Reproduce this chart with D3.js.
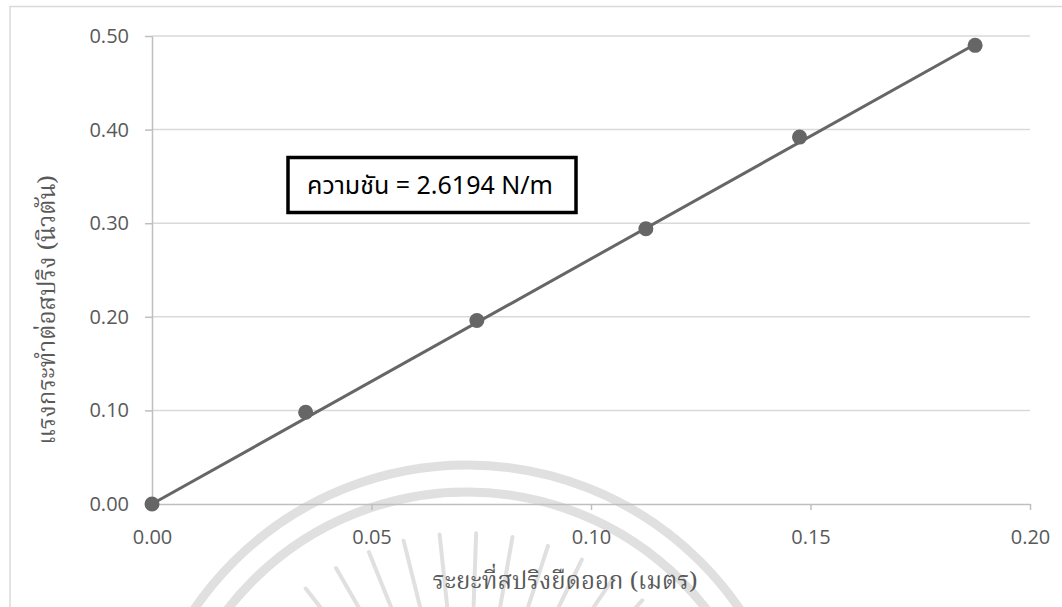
<!DOCTYPE html>
<html>
<head>
<meta charset="utf-8">
<script src="https://cdn.jsdelivr.net/npm/d3@7/dist/d3.min.js"></script>
<style>
  html, body { margin: 0; padding: 0; background: #ffffff; }
  svg { display: block; }
</style>
</head>
<body>
<svg id="chart" width="1062" height="607"></svg>
<script>
// Spring extension (m) and applied force (N)
const extension = [0.000, 0.035, 0.074, 0.1125, 0.1475, 0.1875];
const force     = [0.000, 0.098, 0.196, 0.294, 0.392, 0.490];
// Fitted spring constant (N/m), line through the origin
const springConstant = 2.6194;
const xTicks = [0.00, 0.05, 0.10, 0.15, 0.20];
const yTicks = [0.00, 0.10, 0.20, 0.30, 0.40, 0.50];
const xTitle = "ระยะที่สปริงยืดออก (เมตร)";
const yTitle = "แรงกระทำต่อสปริง (นิวตัน)";
const boxLabel = "ความชัน = " + springConstant.toFixed(4) + " N/m";

const svg = d3.select("#chart");
const W = 1062, H = 607;
const plot = { left: 152, right: 1030, top: 36, bottom: 504 };

const x = d3.scaleLinear().domain([0, 0.20]).range([plot.left, plot.right]);
const y = d3.scaleLinear().domain([0, 0.50]).range([plot.bottom, plot.top]);

// Faint emblem watermark behind everything
const wm = svg.append("g").attr("fill", "none").attr("stroke", "#e0e0e0");
const wcx = 467, wcy = 795;
[330, 303].forEach(r => {
  wm.append("circle").attr("cx", wcx).attr("cy", wcy).attr("r", r).attr("stroke-width", 9);
});
d3.range(-70, 71, 8).forEach(a => {
  const t = (a - 90) * Math.PI / 180;
  wm.append("line")
    .attr("x1", wcx + 190 * Math.cos(t)).attr("y1", wcy + 190 * Math.sin(t))
    .attr("x2", wcx + 262 * Math.cos(t)).attr("y2", wcy + 262 * Math.sin(t))
    .attr("stroke-width", 4).attr("stroke-linecap", "round");
});

// Outer chart frame
svg.append("path")
  .attr("d", `M10,${H} L10,6.5 L${W},6.5`)
  .attr("fill", "none").attr("stroke", "#d9d9d9").attr("stroke-width", 1.5);

// Horizontal gridlines
svg.append("g")
  .selectAll("line")
  .data(yTicks.filter(v => v > 0))
  .join("line")
  .attr("x1", plot.left).attr("x2", plot.right)
  .attr("y1", d => y(d)).attr("y2", d => y(d))
  .attr("stroke", "#d9d9d9").attr("stroke-width", 1.5);

// Axes
const tickFont = "'Open Sans', 'Noto Sans', sans-serif";
const xAxis = svg.append("g")
  .attr("transform", `translate(0,${plot.bottom})`)
  .call(d3.axisBottom(x).tickValues(xTicks).tickFormat(d3.format(".2f")).tickSizeOuter(0).tickSizeInner(6).tickPadding(18));
const yAxis = svg.append("g")
  .attr("transform", `translate(${plot.left},0)`)
  .call(d3.axisLeft(y).tickValues(yTicks).tickFormat(d3.format(".2f")).tickSizeOuter(0).tickSizeInner(7).tickPadding(16));

[xAxis, yAxis].forEach(g => {
  g.select(".domain").attr("stroke", "#bfbfbf").attr("stroke-width", 1.5);
  g.selectAll(".tick line").attr("stroke", "#bfbfbf").attr("stroke-width", 1.5);
  g.selectAll(".tick text")
    .attr("fill", "#595959")
    .style("font-family", tickFont)
    .style("font-size", "20px");
});
xAxis.selectAll(".tick text").attr("dy", "0.8em");

// Fitted line: F = k * x, over the measured range
const xMax = d3.max(extension);
const fit = [0, xMax].map(v => [v, springConstant * v]);
svg.append("path")
  .datum(fit)
  .attr("d", d3.line().x(d => x(d[0])).y(d => y(d[1])))
  .attr("fill", "none").attr("stroke", "#666666").attr("stroke-width", 3);

// Measured points
svg.append("g")
  .selectAll("circle")
  .data(extension.map((v, i) => [v, force[i]]))
  .join("circle")
  .attr("cx", d => x(d[0])).attr("cy", d => y(d[1]))
  .attr("r", 7.5)
  .attr("fill", "#666666");

// Slope annotation box
const box = svg.append("g");
box.append("rect")
  .attr("x", 288).attr("y", 157.5).attr("width", 288).attr("height", 55)
  .attr("fill", "#ffffff").attr("stroke", "#000000").attr("stroke-width", 3.5);
box.append("text")
  .attr("x", 430).attr("y", 194)
  .attr("text-anchor", "middle")
  .attr("fill", "#000000")
  .style("font-family", "'Noto Sans Thai', 'Noto Sans', 'Open Sans', sans-serif")
  .style("font-size", "25px")
  .text(boxLabel);

// Axis titles
const titleFont = "'Noto Serif Thai', 'Noto Sans Thai Looped', 'Liberation Serif', serif";
svg.append("text")
  .attr("x", 565).attr("y", 589)
  .attr("text-anchor", "middle")
  .attr("fill", "#595959")
  .style("font-family", titleFont)
  .style("font-size", "24px")
  .text(xTitle);
svg.append("text")
  .attr("transform", `translate(55,310) rotate(-90)`)
  .attr("text-anchor", "middle")
  .attr("fill", "#595959")
  .style("font-family", titleFont)
  .style("font-size", "24px")
  .text(yTitle);
</script>
</body>
</html>
